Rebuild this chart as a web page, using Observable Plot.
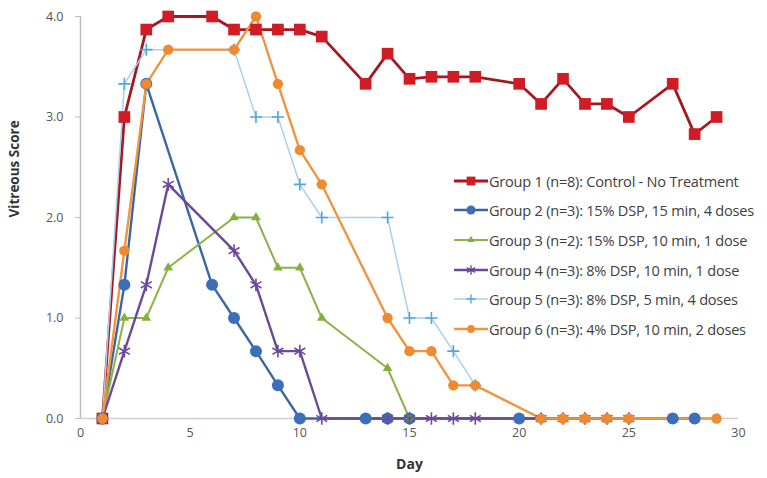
<!DOCTYPE html>
<html>
<head>
<meta charset="utf-8">
<script src="https://cdn.jsdelivr.net/npm/d3@7"></script>
<script src="https://cdn.jsdelivr.net/npm/@observablehq/plot@0.6"></script>
<style>
  html, body { margin: 0; padding: 0; background: #ffffff; }
  #wrap { position: relative; width: 767px; height: 478px; font-family: "Open Sans", "Noto Sans", sans-serif; }
  #legend { position: absolute; left: 452px; top: 166px; font-size: 14.6px; color: #404040; letter-spacing: -0.25px; }
  #legend .row { display: flex; align-items: center; height: 29.6px; white-space: nowrap; }
  #legend svg { margin-right: 1px; }
</style>
</head>
<body>
<div id="wrap"><div id="chart"></div><div id="legend"></div></div>
<script>
// ---- data ----
const seriesNames = [
  "Group 1 (n=8): Control - No Treatment",
  "Group 2 (n=3): 15% DSP, 15 min, 4 doses",
  "Group 3 (n=2): 15% DSP, 10 min, 1 dose",
  "Group 4 (n=3): 8% DSP, 10 min, 1 dose",
  "Group 5 (n=3): 8% DSP, 5 min, 4 doses",
  "Group 6 (n=3): 4% DSP, 10 min, 2 doses"
];
const g1Days = [1, 2, 3, 4, 6, 7, 8, 9, 10, 11, 13, 14, 15, 16, 17, 18, 20, 21, 22, 23, 24, 25, 27, 28, 29];
const g1Vals = [0, 3.0, 3.87, 4.0, 4.0, 3.87, 3.87, 3.87, 3.87, 3.8, 3.33, 3.63, 3.38, 3.4, 3.4, 3.4, 3.33, 3.13, 3.38, 3.13, 3.13, 3.0, 3.33, 2.83, 3.0];
const g2Days = [1, 2, 3, 6, 7, 8, 9, 10, 13, 14, 15, 20, 27, 28];
const g2Vals = [0, 1.33, 3.33, 1.33, 1.0, 0.67, 0.33, 0, 0, 0, 0, 0, 0, 0];
const g3Days = [1, 2, 3, 4, 7, 8, 9, 10, 11, 14, 15];
const g3Vals = [0, 1.0, 1.0, 1.5, 2.0, 2.0, 1.5, 1.5, 1.0, 0.5, 0];
const g4Days = [1, 2, 3, 4, 7, 8, 9, 10, 11, 14, 15, 16, 17, 18, 21, 22, 23, 24, 25];
const g4Vals = [0, 0.67, 1.33, 2.33, 1.67, 1.33, 0.67, 0.67, 0, 0, 0, 0, 0, 0, 0, 0, 0, 0, 0];
const g5Days = [1, 2, 3, 7, 8, 9, 10, 11, 14, 15, 16, 17, 18, 21];
const g5Vals = [0, 3.33, 3.67, 3.67, 3.0, 3.0, 2.33, 2.0, 2.0, 1.0, 1.0, 0.67, 0.33, 0];
const g6Days = [1, 2, 3, 4, 7, 8, 9, 10, 11, 14, 15, 16, 17, 18, 21, 22, 23, 24, 25, 29];
const g6Vals = [0, 1.67, 3.33, 3.67, 3.67, 4.0, 3.33, 2.67, 2.33, 1.0, 0.67, 0.67, 0.33, 0.33, 0, 0, 0, 0, 0, 0];
const xTicks = [0, 5, 10, 15, 20, 25, 30];
const yTicks = [0, 1, 2, 3, 4];

// ---- styles ----
const styles = [
  {line: "#a3191f", mark: "#d01c24", sym: "square", r: 6.6, w: 2.8, filled: true},
  {line: "#3a66a8", mark: "#3c6fb8", sym: "circle", r: 6, w: 2.4, filled: true},
  {line: "#8cb24a", mark: "#86b03e", sym: "triangle", r: 3.6, w: 2, filled: true},
  {line: "#6a4a98", mark: "#6a4a98", sym: "asterisk", r: 6, w: 2.4, filled: false},
  {line: "#a9d0ec", mark: "#4da6e6", sym: "plus", r: 4, w: 1.5, filled: false},
  {line: "#f0953f", mark: "#ee8a30", sym: "circle", r: 5.2, w: 2.4, filled: true}
];
const groups = [[g1Days, g1Vals], [g2Days, g2Vals], [g3Days, g3Vals], [g4Days, g4Vals], [g5Days, g5Vals], [g6Days, g6Vals]];
const tables = groups.map(([d, v], i) => d.map((day, k) => ({day, score: v[k], g: i})));

const marks = [
  Plot.ruleY([0], {stroke: "#d0d0d0", strokeWidth: 1.5}),
  Plot.ruleX([0], {stroke: "#bdbdbd", strokeWidth: 1.5}),
  Plot.axisY({ticks: yTicks, tickFormat: d3.format(".1f"), tickSize: 5, tickPadding: 12, stroke: "#bdbdbd",
    fontSize: 12.5, fill: "#555", label: null}),
  Plot.axisX({ticks: xTicks, tickSize: 0, tickPadding: 10, fontSize: 12.5, fill: "#555", label: null}),
  Plot.text(["Vitreous Score"], {frameAnchor: "left", dx: -66, rotate: -90, fontSize: 13.5, fontWeight: "bold", fill: "#333"}),
  Plot.text(["Day"], {frameAnchor: "bottom", dy: 50, fontSize: 14, fontWeight: "bold", fill: "#333"})
];
tables.forEach((t, i) => {
  const s = styles[i];
  marks.push(Plot.line(t, {x: "day", y: "score", stroke: s.line, strokeWidth: s.w}));
});
tables.forEach((t, i) => {
  const s = styles[i];
  marks.push(Plot.dot(t, s.filled
    ? {x: "day", y: "score", symbol: () => s.sym, r: s.r, fill: s.mark, stroke: "none"}
    : {x: "day", y: "score", symbol: () => s.sym, r: s.r, fill: "none", stroke: s.mark, strokeWidth: 1.6}));
});

const chart = Plot.plot({
  width: 767, height: 478,
  marginLeft: 80, marginRight: 29, marginTop: 16, marginBottom: 60,
  style: {fontFamily: "'Open Sans', 'Noto Sans', sans-serif", background: "#fff", overflow: "visible"},
  x: {domain: [0, 30]},
  y: {domain: [0, 4]},
  symbol: {type: "identity"},
  marks
});
document.getElementById("chart").appendChild(chart);

// ---- legend (HTML overlay) ----
const legend = document.getElementById("legend");
seriesNames.forEach((name, i) => {
  const s = styles[i];
  const row = document.createElement("div");
  row.className = "row";
  const sv = d3.create("svg").attr("width", 36).attr("height", 16);
  sv.append("line").attr("x1", 2).attr("x2", 36).attr("y1", 8).attr("y2", 8).attr("stroke", s.line).attr("stroke-width", s.w);
  const symMap = {square: d3.symbolSquare, circle: d3.symbolCircle, triangle: d3.symbolTriangle, asterisk: d3.symbolAsterisk, plus: d3.symbolPlus};
  const size = Math.PI * (s.r * 0.75) ** 2;
  const p = sv.append("path").attr("transform", "translate(19,8)").attr("d", d3.symbol(symMap[s.sym], size)());
  if (s.filled) p.attr("fill", s.mark); else p.attr("fill", "none").attr("stroke", s.mark).attr("stroke-width", 1.4);
  row.appendChild(sv.node());
  const span = document.createElement("span");
  span.textContent = name;
  row.appendChild(span);
  legend.appendChild(row);
});
</script>
</body>
</html>
